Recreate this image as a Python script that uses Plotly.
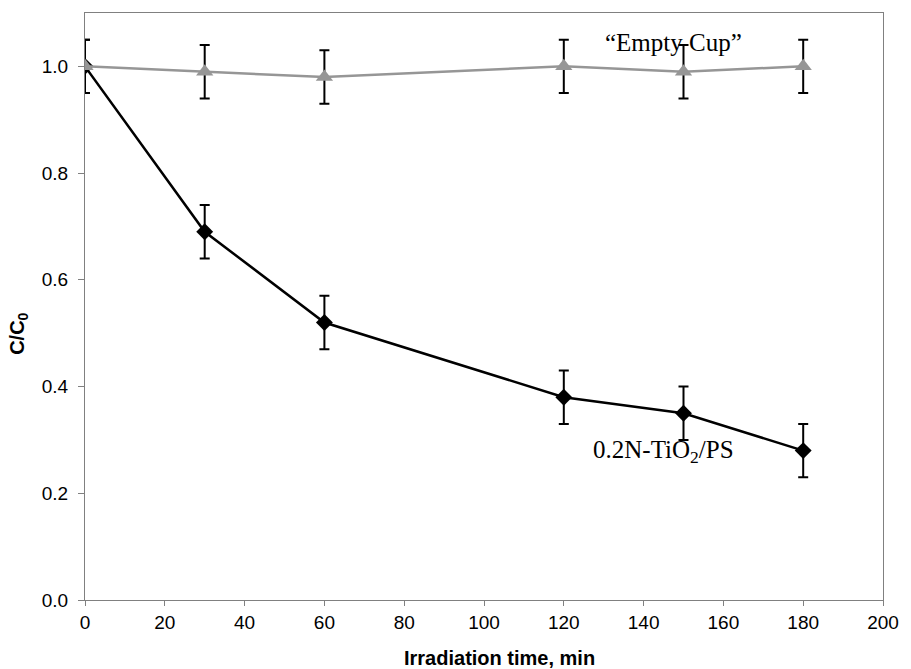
import plotly.graph_objects as go

time_min = [0, 30, 60, 120, 150, 180]
tio2_ps = [1.0, 0.69, 0.52, 0.38, 0.35, 0.28]
tio2_err = [0.05, 0.05, 0.05, 0.05, 0.05, 0.05]
empty_cup = [1.0, 0.99, 0.98, 1.0, 0.99, 1.0]
empty_err = [0.05, 0.05, 0.05, 0.05, 0.05, 0.05]

x_ticks = [0, 20, 40, 60, 80, 100, 120, 140, 160, 180, 200]
y_ticks = [0.0, 0.2, 0.4, 0.6, 0.8, 1.0]

fig = go.Figure()
fig.add_trace(go.Scatter(
    x=time_min, y=tio2_ps, mode="lines+markers",
    line=dict(color="black", width=2.5),
    marker=dict(symbol="diamond", size=13, color="black"),
    error_y=dict(type="data", array=tio2_err, visible=True, color="black", thickness=2, width=5),
    showlegend=False,
))
fig.add_trace(go.Scatter(
    x=time_min, y=empty_cup, mode="lines+markers",
    line=dict(color="#969696", width=2.5),
    marker=dict(symbol="triangle-up", size=15, color="#969696"),
    error_y=dict(type="data", array=empty_err, visible=True, color="black", thickness=2, width=5),
    showlegend=False,
))

axis_font = dict(family="Liberation Sans, Arial, sans-serif", size=19, color="black")
fig.update_xaxes(
    range=[0, 200], tickvals=x_ticks, ticktext=[str(v) for v in x_ticks],
    ticks="outside", ticklen=5, tickcolor="#808080", showline=True, linecolor="#808080",
    linewidth=1.3, mirror=True, showgrid=False, zeroline=False, tickfont=axis_font,
)
fig.update_yaxes(
    range=[0, 1.1], tickvals=y_ticks, ticktext=[f"{v:.1f}" for v in y_ticks],
    ticks="outside", ticklen=6, tickcolor="#808080", showline=True, linecolor="#808080",
    linewidth=1.3, mirror=True, showgrid=False, zeroline=False, tickfont=axis_font,
    ticklabelstandoff=6,
)

serif = dict(family="Liberation Serif, Times New Roman, serif", size=25, color="black")
bold = dict(family="Liberation Sans, Arial, sans-serif", size=20, color="black")
pw = 911 - 85 - 18
ph = 669 - 13 - 69
fig.update_layout(
    width=911, height=669,
    margin=dict(l=85, r=18, t=13, b=69),
    paper_bgcolor="white", plot_bgcolor="white",
    annotations=[
        dict(x=147.5, y=1.045, xref="x", yref="y", text="“Empty Cup”", showarrow=False, font=serif),
        dict(x=145, y=0.278, xref="x", yref="y", text="0.2N-TiO<sub>2</sub>/PS", showarrow=False, font=serif),
        dict(x=(505 - 85) / pw, y=(600 - 658) / ph, xref="paper", yref="paper",
             xanchor="center", yanchor="middle",
             text="<b>Irradiation time, min</b>", showarrow=False, font=bold),
        dict(x=(17 - 85) / pw, y=(600 - 334) / ph, xref="paper", yref="paper",
             xanchor="center", yanchor="middle",
             text="<b>C/C<sub>0</sub></b>", showarrow=False, font=bold, textangle=-90),
    ],
)

fig.write_html("out.html", config={"displayModeBar": False},
               post_script="document.body.style.margin='0';document.body.style.overflow='hidden';")
